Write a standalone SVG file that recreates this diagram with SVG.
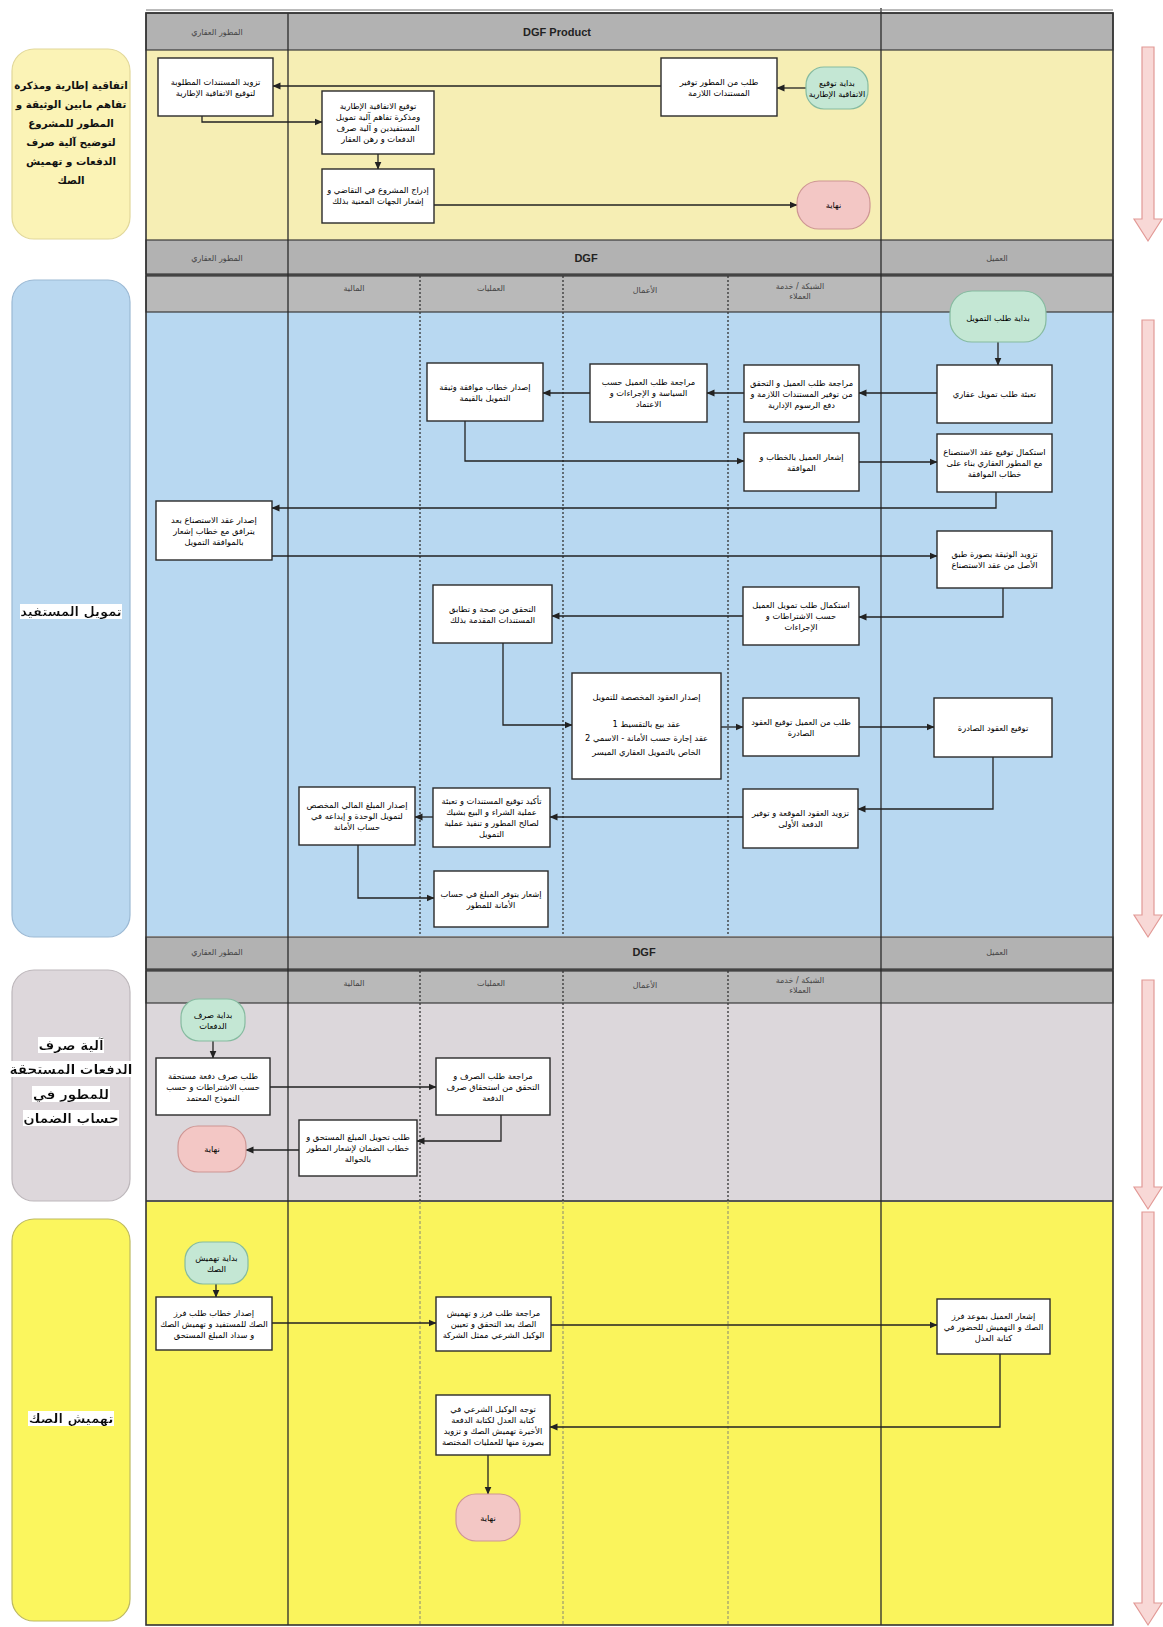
<svg xmlns="http://www.w3.org/2000/svg" width="1163" height="1627" viewBox="0 0 1163 1627">
<style>
.box{fill:#fff;stroke:#2a2a2a;stroke-width:1.4}
.start{fill:#C4E7D4;stroke:#86BBA0;stroke-width:1.2}
.end{fill:#F3C7C5;stroke:#CE9694;stroke-width:1.2}
.t{font-family:"DejaVu Sans",sans-serif;font-size:8.3px;fill:#000;text-anchor:middle;direction:rtl}
.hd{font-family:"DejaVu Sans",sans-serif;font-size:8px;fill:#444;text-anchor:middle;direction:rtl}
.hdl{font-family:"Liberation Sans",Arial,sans-serif;font-size:11px;font-weight:bold;fill:#222;text-anchor:middle}
.lab{font-family:"DejaVu Sans",sans-serif;font-weight:bold;fill:#111;text-anchor:middle;direction:rtl}
.conn{fill:none;stroke:#222;stroke-width:1.3;marker-end:url(#ah)}
.hdr{fill:#B2B2B2;stroke:#3a3a3a;stroke-width:1.2}
.sub{fill:#B9B9B9;stroke:#3a3a3a;stroke-width:1.2}
.vl{stroke:#2a2a2a;stroke-width:1.3}
.dl{stroke:#333;stroke-width:1.3;stroke-dasharray:2 2}
.dl4{stroke:#9a9a70;stroke-width:1.2;stroke-dasharray:3 2}
.parr{fill:#F8D8D6;stroke:#E29996;stroke-width:1.2}
</style>
<defs>
<marker id="ah" markerWidth="8" markerHeight="8" refX="7.5" refY="4" orient="auto" markerUnits="userSpaceOnUse"><path d="M0,0.5 L8,4 L0,7.5 Z" fill="#222"/></marker>
<filter id="hl" x="0" y="0" width="1" height="1"><feFlood flood-color="#ffffff" result="bg"/><feMerge><feMergeNode in="bg"/><feMergeNode in="SourceGraphic"/></feMerge></filter>
</defs>
<rect width="1163" height="1627" fill="#ffffff"/>

<!-- section backgrounds -->
<rect x="146" y="50" width="967" height="190" fill="#F6EEB4"/>
<rect x="146" y="312" width="967" height="624" fill="#B8D8F1"/>
<rect x="146" y="1003" width="967" height="198" fill="#DCD7DB"/>
<rect x="146" y="1201" width="967" height="424" fill="#FAF45C"/>

<!-- headers -->
<rect class="hdr" x="146" y="13" width="967" height="37"/>
<rect class="hdr" x="146" y="240" width="967" height="34"/>
<rect class="sub" x="146" y="276" width="967" height="36"/>
<rect class="hdr" x="146" y="937" width="967" height="32"/>
<rect class="sub" x="146" y="971" width="967" height="32"/>
<line x1="146" y1="1201" x2="1113" y2="1201" stroke="#555" stroke-width="2"/>
<line x1="146" y1="275" x2="1113" y2="275" stroke="#444" stroke-width="2"/>
<line x1="146" y1="970" x2="1113" y2="970" stroke="#444" stroke-width="2"/>

<text class="hd" x="217" y="35">المطور العقاري</text>
<text class="hdl" x="557" y="36">DGF Product</text>
<text class="hd" x="217" y="261">المطور العقاري</text>
<text class="hdl" x="586" y="262">DGF</text>
<text class="hd" x="997" y="261">العميل</text>
<text class="hd" x="354" y="291">المالية</text>
<text class="hd" x="491" y="291">العمليات</text>
<text class="hd" x="645" y="293">الأعمال</text>
<text class="hd" x="800" y="289">الشبكة / خدمة</text>
<text class="hd" x="800" y="299">العملاء</text>
<text class="hd" x="217" y="955">المطور العقاري</text>
<text class="hdl" x="644" y="956">DGF</text>
<text class="hd" x="997" y="955">العميل</text>
<text class="hd" x="354" y="986">المالية</text>
<text class="hd" x="491" y="986">العمليات</text>
<text class="hd" x="645" y="988">الأعمال</text>
<text class="hd" x="800" y="983">الشبكة / خدمة</text>
<text class="hd" x="800" y="993">العملاء</text>

<!-- lane lines -->
<line class="vl" x1="288" y1="13" x2="288" y2="1625"/>
<line class="vl" x1="881" y1="8" x2="881" y2="1625"/>
<line class="dl" x1="420" y1="276" x2="420" y2="936"/>
<line class="dl" x1="563" y1="276" x2="563" y2="936"/>
<line class="dl" x1="728" y1="276" x2="728" y2="936"/>
<line class="dl" x1="420" y1="971" x2="420" y2="1201"/>
<line class="dl" x1="563" y1="971" x2="563" y2="1201"/>
<line class="dl" x1="728" y1="971" x2="728" y2="1201"/>
<line class="dl4" x1="420" y1="1201" x2="420" y2="1625"/>
<line class="dl4" x1="563" y1="1201" x2="563" y2="1625"/>
<line class="dl4" x1="728" y1="1201" x2="728" y2="1625"/>

<!-- frame -->
<rect x="146" y="13" width="967" height="1612" fill="none" stroke="#333" stroke-width="1.6"/>
<line x1="146" y1="10" x2="1113" y2="10" stroke="#777" stroke-width="1"/>

<!-- left labels -->
<g id="label-1">
<rect x="12" y="49" width="118" height="190" rx="22" fill="#FBF3B6" stroke="#E2D89A" stroke-width="1.2"/>
<text class="lab" font-size="10.3" x="71" y="89">اتفاقية إطارية ومذكرة</text>
<text class="lab" font-size="10.3" x="71" y="108">تفاهم مابين الوثيقة و</text>
<text class="lab" font-size="10.3" x="71" y="127">المطور للمشروع</text>
<text class="lab" font-size="10.3" x="71" y="146">لتوضيح آلية صرف</text>
<text class="lab" font-size="10.3" x="71" y="165">الدفعات و تهميش</text>
<text class="lab" font-size="10.3" x="71" y="184">الصك</text>
</g>
<g id="label-2">
<rect x="12" y="280" width="118" height="657" rx="22" fill="#BAD8F0" stroke="#9BB9D4" stroke-width="1.2"/>
<text class="lab" font-size="13" x="71" y="616" filter="url(#hl)">تمويل المستفيد</text>
</g>
<g id="label-3">
<rect x="12" y="970" width="118" height="231" rx="22" fill="#DDD7DB" stroke="#BDB7BB" stroke-width="1.2"/>
<text class="lab" font-size="13.5" x="71" y="1050" filter="url(#hl)">آلية صرف</text>
<text class="lab" font-size="13.5" x="71" y="1074" filter="url(#hl)">الدفعات المستحقة</text>
<text class="lab" font-size="13.5" x="71" y="1099" filter="url(#hl)">للمطور في</text>
<text class="lab" font-size="13.5" x="71" y="1123" filter="url(#hl)">حساب الضمان</text>
</g>
<g id="label-4">
<rect x="12" y="1219" width="118" height="402" rx="22" fill="#FBF65E" stroke="#BDB960" stroke-width="1.2"/>
<text class="lab" font-size="13" x="71" y="1423" filter="url(#hl)">تهميش الصك</text>
</g>

<!-- right progress arrows -->
<g id="flow-arrows">
<path class="parr" d="M1142,47 L1154,47 L1154,219 L1162,219 L1148,241 L1134,219 L1142,219 Z"/>
<path class="parr" d="M1142,320 L1154,320 L1154,915 L1162,915 L1148,937 L1134,915 L1142,915 Z"/>
<path class="parr" d="M1142,980 L1154,980 L1154,1187 L1162,1187 L1148,1209 L1134,1187 L1142,1187 Z"/>
<path class="parr" d="M1142,1212 L1154,1212 L1154,1603 L1162,1603 L1148,1625 L1134,1603 L1142,1603 Z"/>
</g>

<!-- connectors -->
<g id="connectors">
<path class="conn" d="M806,88 L777,88"/>
<path class="conn" d="M661,86 L273,86"/>
<path class="conn" d="M202,116 L202,122 L322,122"/>
<path class="conn" d="M378,154 L378,169"/>
<path class="conn" d="M434,205 L797,205"/>

<path class="conn" d="M998,342 L998,365"/>
<path class="conn" d="M937,393 L859,393"/>
<path class="conn" d="M744,393 L707,393"/>
<path class="conn" d="M590,393 L543,393"/>
<path class="conn" d="M465,421 L465,461 L744,461"/>
<path class="conn" d="M859,462 L937,462"/>
<path class="conn" d="M996,492 L996,508 L272,508"/>
<path class="conn" d="M272,556 L937,556"/>
<path class="conn" d="M1003,588 L1003,617 L859,617"/>
<path class="conn" d="M743,616 L552,616"/>
<path class="conn" d="M503,643 L503,725 L572,725"/>
<path class="conn" d="M721,727 L743,727"/>
<path class="conn" d="M859,727 L934,727"/>
<path class="conn" d="M993,757 L993,809 L858,809"/>
<path class="conn" d="M743,817 L550,817"/>
<path class="conn" d="M433,817 L415,817"/>
<path class="conn" d="M358,845 L358,898 L434,898"/>

<path class="conn" d="M213,1041 L213,1058"/>
<path class="conn" d="M270,1087 L436,1087"/>
<path class="conn" d="M501,1115 L501,1141 L417,1141"/>
<path class="conn" d="M299,1150 L246,1150"/>

<path class="conn" d="M216,1284 L216,1297"/>
<path class="conn" d="M272,1323 L436,1323"/>
<path class="conn" d="M551,1325 L937,1325"/>
<path class="conn" d="M1000,1354 L1000,1427 L550,1427"/>
<path class="conn" d="M488,1455 L488,1494"/>
</g>

<!-- section 1 nodes -->
<g id="s1-start"><rect class="start" x="806" y="67" width="62" height="42" rx="18"/>
<text class="t" x="837"><tspan x="837" y="85.5">بداية توقيع</tspan><tspan x="837" y="96.5">الاتفاقية الإطارية</tspan></text></g>
<g id="s1-request-docs"><rect class="box" x="661" y="58" width="116" height="58"/>
<text class="t"><tspan x="719" y="84.5">طلب من المطور توفير</tspan><tspan x="719" y="95.5">المستندات اللازمة</tspan></text></g>
<g id="s1-provide-docs"><rect class="box" x="158" y="58" width="115" height="58"/>
<text class="t"><tspan x="215.5" y="84.5">تزويد المستندات المطلوبة</tspan><tspan x="215.5" y="95.5">لتوقيع الاتفاقية الإطارية</tspan></text></g>
<g id="s1-sign"><rect class="box" x="322" y="91" width="112" height="63"/>
<text class="t"><tspan x="378" y="109">توقيع الاتفاقية الإطارية</tspan><tspan x="378" y="120">ومذكرة تفاهم آلية تمويل</tspan><tspan x="378" y="131">المستفيدين و آلية صرف</tspan><tspan x="378" y="142">الدفعات و رهن العقار</tspan></text></g>
<g id="s1-list"><rect class="box" x="322" y="169" width="112" height="54"/>
<text class="t"><tspan x="378" y="193">إدراج المشروع في التقاضي و</tspan><tspan x="378" y="204">إشعار الجهات المعنية بذلك</tspan></text></g>
<g id="s1-end"><rect class="end" x="797" y="181" width="73" height="48" rx="22"/>
<text class="t" x="833.5" y="208">نهاية</text></g>

<!-- section 2 nodes -->
<g id="s2-start"><rect class="start" x="950" y="291" width="96" height="51" rx="22"/>
<text class="t" x="998" y="321">بداية طلب التمويل</text></g>
<g id="s2-fill"><rect class="box" x="937" y="365" width="115" height="58"/>
<text class="t" x="994.5" y="397">تعبئة طلب تمويل عقاري</text></g>
<g id="s2-net-review"><rect class="box" x="744" y="365" width="115" height="57"/>
<text class="t"><tspan x="801.5" y="385.5">مراجعة طلب العميل و التحقق</tspan><tspan x="801.5" y="396.5">من توفير المستندات اللازمة و</tspan><tspan x="801.5" y="407.5">دفع الرسوم الإدارية</tspan></text></g>
<g id="s2-biz-review"><rect class="box" x="590" y="364" width="117" height="58"/>
<text class="t"><tspan x="648.5" y="385">مراجعة طلب العميل حسب</tspan><tspan x="648.5" y="396">السياسة و الإجراءات و</tspan><tspan x="648.5" y="407">الاعتماد</tspan></text></g>
<g id="s2-ops-letter"><rect class="box" x="427" y="363" width="116" height="58"/>
<text class="t"><tspan x="485" y="389.5">إصدار خطاب موافقة وثيقة</tspan><tspan x="485" y="400.5">التمويل بالقيمة</tspan></text></g>
<g id="s2-net-notify"><rect class="box" x="744" y="433" width="115" height="58"/>
<text class="t"><tspan x="801.5" y="459.5">إشعار العميل بالخطاب و</tspan><tspan x="801.5" y="470.5">الموافقة</tspan></text></g>
<g id="s2-client-sign"><rect class="box" x="937" y="434" width="115" height="58"/>
<text class="t"><tspan x="994.5" y="455">استكمال توقيع عقد الاستصناع</tspan><tspan x="994.5" y="466">مع المطور العقاري بناء على</tspan><tspan x="994.5" y="477">خطاب الموافقة</tspan></text></g>
<g id="s2-dev-contract"><rect class="box" x="156" y="501" width="116" height="59"/>
<text class="t"><tspan x="214" y="522.5">إصدار عقد الاستصناع بعد</tspan><tspan x="214" y="533.5">يترافق مع خطاب إشعار</tspan><tspan x="214" y="544.5">بالموافقة التمويل</tspan></text></g>
<g id="s2-client-copy"><rect class="box" x="937" y="531" width="115" height="57"/>
<text class="t"><tspan x="994.5" y="557">تزويد الوثيقة بصورة طبق</tspan><tspan x="994.5" y="568">الأصل من عقد الاستصناع</tspan></text></g>
<g id="s2-net-complete"><rect class="box" x="743" y="587" width="116" height="58"/>
<text class="t"><tspan x="801" y="608">استكمال طلب تمويل العميل</tspan><tspan x="801" y="619">حسب الاشتراطات و</tspan><tspan x="801" y="630">الإجراءات</tspan></text></g>
<g id="s2-ops-verify"><rect class="box" x="433" y="585" width="119" height="58"/>
<text class="t"><tspan x="492.5" y="611.5">التحقق من صحة و تطابق</tspan><tspan x="492.5" y="622.5">المستندات المقدمة بذلك</tspan></text></g>
<g id="s2-biz-contracts"><rect class="box" x="572" y="673" width="149" height="106"/>
<text class="t"><tspan x="646.5" y="700">إصدار العقود المخصصة للتمويل</tspan><tspan x="646.5" y="727">عقد بيع بالتقسيط 1</tspan><tspan x="646.5" y="741">عقد إجارة حسب الأمانة - الاسمي 2</tspan><tspan x="646.5" y="755">الخاص بالتمويل العقاري الميسر</tspan></text></g>
<g id="s2-net-request"><rect class="box" x="743" y="698" width="116" height="58"/>
<text class="t"><tspan x="801" y="724.5">طلب من العميل توقيع العقود</tspan><tspan x="801" y="735.5">الصادرة</tspan></text></g>
<g id="s2-client-signc"><rect class="box" x="934" y="698" width="118" height="59"/>
<text class="t" x="993" y="730.5">توقيع العقود الصادرة</text></g>
<g id="s2-net-provide"><rect class="box" x="743" y="789" width="115" height="59"/>
<text class="t"><tspan x="800.5" y="816">تزويد العقود الموقعة و توفير</tspan><tspan x="800.5" y="827">الدفعة الأولى</tspan></text></g>
<g id="s2-ops-confirm"><rect class="box" x="433" y="788" width="117" height="59"/>
<text class="t"><tspan x="491.5" y="804">تأكيد توقيع المستندات و تعبئة</tspan><tspan x="491.5" y="815">عملية الشراء و البيع بشيك</tspan><tspan x="491.5" y="826">لصالح المطور و تنفيذ عملية</tspan><tspan x="491.5" y="837">التمويل</tspan></text></g>
<g id="s2-fin-release"><rect class="box" x="299" y="787" width="116" height="58"/>
<text class="t"><tspan x="357" y="808">إصدار المبلغ المالي المخصص</tspan><tspan x="357" y="819">لتمويل الوحدة و إيداعه في</tspan><tspan x="357" y="830">حساب الأمانة</tspan></text></g>
<g id="s2-ops-notify"><rect class="box" x="434" y="871" width="114" height="56"/>
<text class="t"><tspan x="491" y="896.5">إشعار بتوفر المبلغ في حساب</tspan><tspan x="491" y="907.5">الأمانة للمطور</tspan></text></g>

<!-- section 3 nodes -->
<g id="s3-start"><rect class="start" x="181" y="999" width="64" height="42" rx="18"/>
<text class="t"><tspan x="213" y="1017.5">بداية صرف</tspan><tspan x="213" y="1028.5">الدفعات</tspan></text></g>
<g id="s3-dev-request"><rect class="box" x="156" y="1058" width="114" height="57"/>
<text class="t"><tspan x="213" y="1078.5">طلب صرف دفعة مستحقة</tspan><tspan x="213" y="1089.5">حسب الاشتراطات و حسب</tspan><tspan x="213" y="1100.5">النموذج المعتمد</tspan></text></g>
<g id="s3-ops-review"><rect class="box" x="436" y="1058" width="114" height="57"/>
<text class="t"><tspan x="493" y="1078.5">مراجعة طلب الصرف و</tspan><tspan x="493" y="1089.5">التحقق من استحقاق صرف</tspan><tspan x="493" y="1100.5">الدفعة</tspan></text></g>
<g id="s3-fin-transfer"><rect class="box" x="299" y="1120" width="118" height="56"/>
<text class="t"><tspan x="358" y="1140">طلب تحويل المبلغ المستحق و</tspan><tspan x="358" y="1151">خطاب الضمان لإشعار المطور</tspan><tspan x="358" y="1162">بالحوالة</tspan></text></g>
<g id="s3-end"><rect class="end" x="178" y="1126" width="68" height="46" rx="20"/>
<text class="t" x="212" y="1152">نهاية</text></g>

<!-- section 4 nodes -->
<g id="s4-start"><rect class="start" x="185" y="1242" width="63" height="42" rx="18"/>
<text class="t"><tspan x="216.5" y="1260.5">بداية تهميش</tspan><tspan x="216.5" y="1271.5">الصك</tspan></text></g>
<g id="s4-dev-letter"><rect class="box" x="156" y="1297" width="116" height="53"/>
<text class="t"><tspan x="214" y="1315.5">إصدار خطاب طلب فرز</tspan><tspan x="214" y="1326.5">الصك للمستفيد و تهميش الصك</tspan><tspan x="214" y="1337.5">و سداد المبلغ المستحق</tspan></text></g>
<g id="s4-ops-review"><rect class="box" x="436" y="1297" width="115" height="54"/>
<text class="t"><tspan x="493.5" y="1316">مراجعة طلب فرز و تهميش</tspan><tspan x="493.5" y="1327">الصك بعد التحقق و تعيين</tspan><tspan x="493.5" y="1338">الوكيل الشرعي ممثل الشركة</tspan></text></g>
<g id="s4-client-notify"><rect class="box" x="937" y="1299" width="113" height="55"/>
<text class="t"><tspan x="993.5" y="1318.5">إشعار العميل بموعد فرز</tspan><tspan x="993.5" y="1329.5">الصك و التهميش للحضور في</tspan><tspan x="993.5" y="1340.5">كتابة العدل</tspan></text></g>
<g id="s4-ops-agent"><rect class="box" x="436" y="1395" width="114" height="60"/>
<text class="t"><tspan x="493" y="1411.5">توجه الوكيل الشرعي في</tspan><tspan x="493" y="1422.5">كتابة العدل لكتابة الدفعة</tspan><tspan x="493" y="1433.5">الأخيرة تهميش الصك و تزويد</tspan><tspan x="493" y="1444.5">بصورة منها للعمليات المختصة</tspan></text></g>
<g id="s4-end"><rect class="end" x="456" y="1494" width="64" height="47" rx="20"/>
<text class="t" x="488" y="1521">نهاية</text></g>
</svg>
